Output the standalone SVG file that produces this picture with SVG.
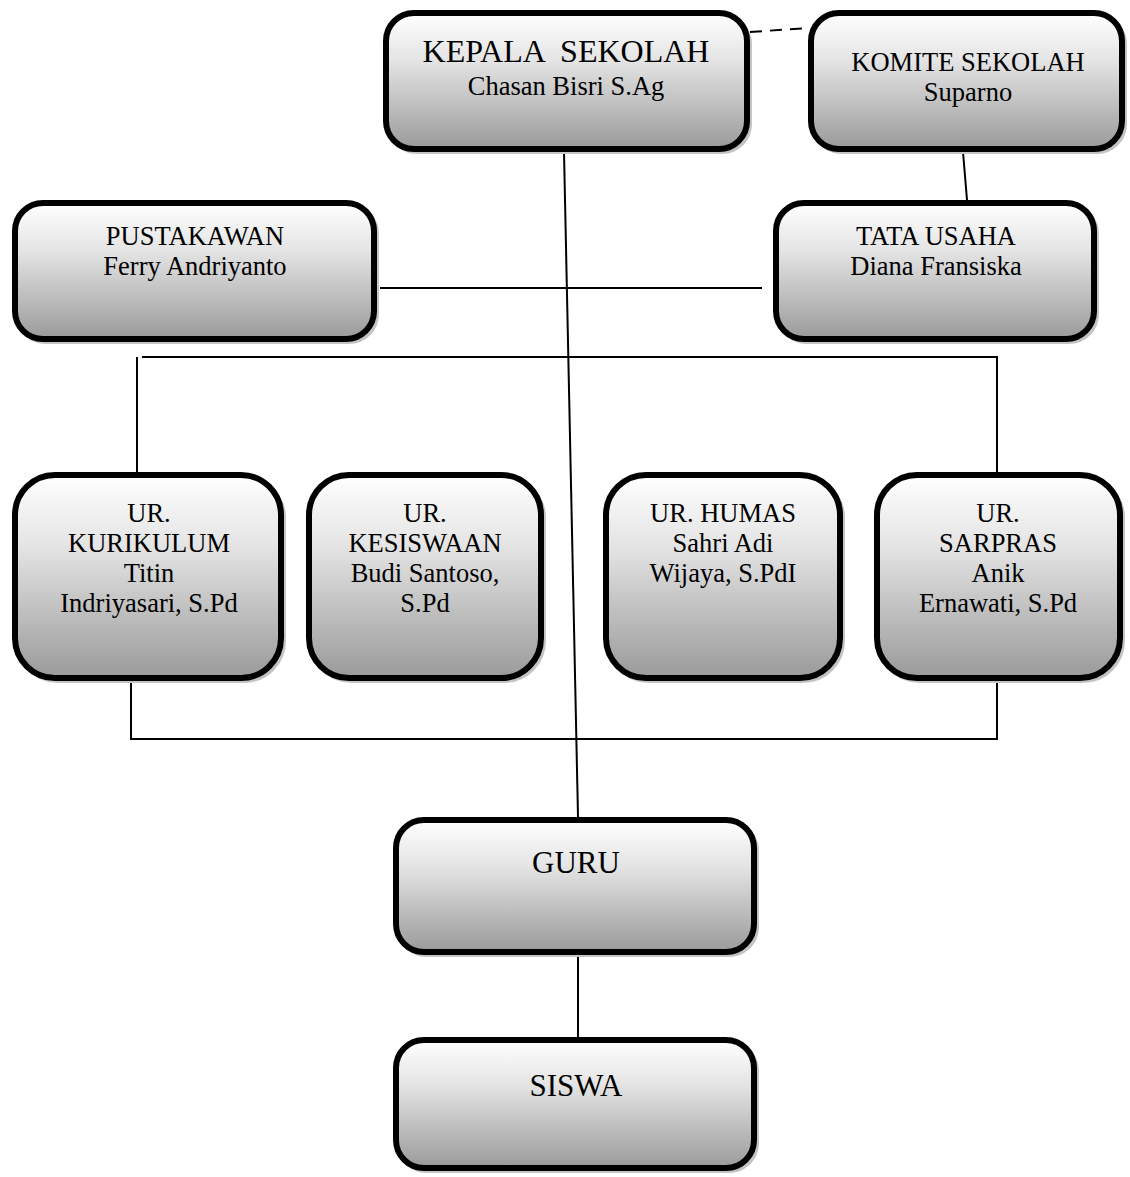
<svg xmlns="http://www.w3.org/2000/svg" width="1130" height="1177" viewBox="0 0 1130 1177">
<style>
.box{fill:url(#g);stroke:#000;stroke-width:6}
.sh{fill:none;stroke:#c4c4c4;stroke-width:4}
.t{font-family:"Liberation Serif","Times New Roman",serif;font-size:26.5px;fill:#000;text-anchor:middle}
.big{font-size:32px}
.huge{font-size:31px}
.ln{stroke:#000;stroke-width:2;fill:none}
</style>
<defs>
<linearGradient id="g" x1="0" y1="0" x2="0" y2="1">
<stop offset="0" stop-color="#ffffff"/>
<stop offset="0.35" stop-color="#e4e4e4"/>
<stop offset="1" stop-color="#9a9a9a"/>
</linearGradient>
</defs>
<rect width="1130" height="1177" fill="#fff"/>
<g id="connectors">
<line class="ln" x1="750" y1="32" x2="808" y2="28" stroke-dasharray="12,8"/>
<line class="ln" x1="564" y1="152" x2="578" y2="817" stroke-width="1.6"/>
<line class="ln" x1="963" y1="152" x2="967" y2="200" stroke-width="1.6"/>
<line class="ln" x1="380" y1="288" x2="762" y2="288" stroke-width="1.6"/>
<path class="ln" d="M137 472 V357"/>
<path class="ln" d="M142 357 H997 V472"/>
<path class="ln" d="M131 682 V739 H997 V682"/>
<line class="ln" x1="578" y1="957" x2="578" y2="1037" stroke-width="1.6"/>
</g>
<g id="kepala">
<rect class="sh" x="389" y="16" width="361" height="136" rx="28"/>
<rect class="box" x="386" y="13" width="361" height="136" rx="28"/>
<text class="t big" x="566" y="62" xml:space="preserve">KEPALA  SEKOLAH</text>
<text class="t" x="566" y="95">Chasan Bisri S.Ag</text>
</g>
<g id="komite">
<rect class="sh" x="814" y="16" width="311" height="136" rx="28"/>
<rect class="box" x="811" y="13" width="311" height="136" rx="28"/>
<text class="t" x="968" y="71">KOMITE SEKOLAH</text>
<text class="t" x="968" y="101">Suparno</text>
</g>
<g id="pustakawan">
<rect class="sh" x="18" y="206" width="359" height="136" rx="28"/>
<rect class="box" x="15" y="203" width="359" height="136" rx="28"/>
<text class="t" x="195" y="245">PUSTAKAWAN</text>
<text class="t" x="195" y="275">Ferry Andriyanto</text>
</g>
<g id="tatausaha">
<rect class="sh" x="779" y="206" width="318" height="136" rx="28"/>
<rect class="box" x="776" y="203" width="318" height="136" rx="28"/>
<text class="t" x="936" y="245">TATA USAHA</text>
<text class="t" x="936" y="275">Diana Fransiska</text>
</g>
<g id="kurikulum">
<rect class="sh" x="18" y="478" width="266" height="203" rx="40"/>
<rect class="box" x="15" y="475" width="266" height="203" rx="40"/>
<text class="t" x="149" y="522">UR.</text>
<text class="t" x="149" y="552">KURIKULUM</text>
<text class="t" x="149" y="582">Titin</text>
<text class="t" x="149" y="612">Indriyasari, S.Pd</text>
</g>
<g id="kesiswaan">
<rect class="sh" x="312" y="478" width="232" height="203" rx="40"/>
<rect class="box" x="309" y="475" width="232" height="203" rx="40"/>
<text class="t" x="425" y="522">UR.</text>
<text class="t" x="425" y="552">KESISWAAN</text>
<text class="t" x="425" y="582">Budi Santoso,</text>
<text class="t" x="425" y="612">S.Pd</text>
</g>
<g id="humas">
<rect class="sh" x="609" y="478" width="234" height="203" rx="40"/>
<rect class="box" x="606" y="475" width="234" height="203" rx="40"/>
<text class="t" x="723" y="522">UR. HUMAS</text>
<text class="t" x="723" y="552">Sahri Adi</text>
<text class="t" x="723" y="582">Wijaya, S.PdI</text>
</g>
<g id="sarpras">
<rect class="sh" x="880" y="478" width="243" height="203" rx="40"/>
<rect class="box" x="877" y="475" width="243" height="203" rx="40"/>
<text class="t" x="998" y="522">UR.</text>
<text class="t" x="998" y="552">SARPRAS</text>
<text class="t" x="998" y="582">Anik</text>
<text class="t" x="998" y="612">Ernawati, S.Pd</text>
</g>
<g id="guru">
<rect class="sh" x="399" y="823" width="358" height="132" rx="28"/>
<rect class="box" x="396" y="820" width="358" height="132" rx="28"/>
<text class="t huge" x="576" y="873">GURU</text>
</g>
<g id="siswa">
<rect class="sh" x="399" y="1043" width="358" height="128" rx="28"/>
<rect class="box" x="396" y="1040" width="358" height="128" rx="28"/>
<text class="t huge" x="576" y="1096">SISWA</text>
</g>
</svg>
